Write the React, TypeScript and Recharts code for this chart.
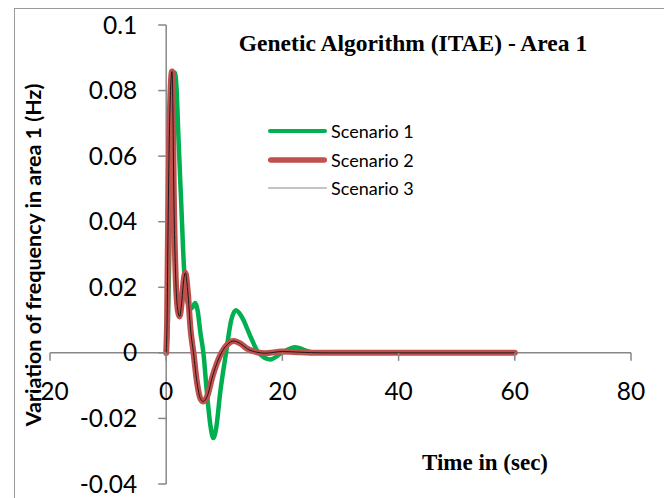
import React from 'react';
import { LineChart, Line, XAxis, YAxis, ReferenceLine, ReferenceDot, Legend } from 'recharts';

const chartTitle = 'Genetic Algorithm (ITAE) - Area 1';
const xAxisTitle = 'Time in (sec)';
const yAxisTitle = 'Variation of frequency in area 1 (Hz)';

const xTicks = [-20, 0, 20, 40, 60, 80];
const xTickLabels = ['-20', '0', '20', '40', '60', '80'];
const yTicks = [-0.04, -0.02, 0, 0.02, 0.04, 0.06, 0.08, 0.1];
const yTickLabels = ['-0.04', '-0.02', '0', '0.02', '0.04', '0.06', '0.08', '0.1'];

const seriesNames = ['Scenario 1', 'Scenario 2', 'Scenario 3'];

const scenario1Time = [0, 0.3, 0.7, 1.1, 1.5, 1.8, 2.1, 2.6, 3.06, 3.5, 4.1, 4.5, 5.0, 5.4, 5.9, 6.4, 7.0, 7.6, 8.1, 8.6, 9.3, 10.3, 11.2, 12.0, 13.0, 14.5, 15.9, 17.9, 19.9, 22.2, 25.0, 28.0, 60];
const scenario1Values = [0, 0.01, 0.045, 0.078, 0.0855, 0.08, 0.066, 0.045, 0.026, 0.017, 0.0135, 0.0138, 0.0152, 0.013, 0.006, 0, -0.012, -0.022, -0.026, -0.023, -0.012, 0, 0.01, 0.013, 0.011, 0.005, 0, -0.002, 0, 0.0017, 0.0002, 0, 0];

const scenario2Time = [0, 0.15, 0.3, 0.5, 0.75, 1.0, 1.15, 1.3, 1.6, 2.0, 2.3, 2.7, 3.0, 3.3, 3.7, 4.2, 4.7, 5.3, 5.9, 6.4, 7.0, 8.0, 9.5, 10.5, 11.6, 12.8, 14.0, 15.6, 17.0, 20.0, 23.0, 27.0, 60];
const scenario2Values = [0, 0.01, 0.035, 0.062, 0.08, 0.0858, 0.075, 0.05, 0.025, 0.013, 0.0111, 0.016, 0.022, 0.0244, 0.019, 0.007, 0, -0.009, -0.014, -0.0148, -0.0135, -0.007, 0, 0.0025, 0.0036, 0.0028, 0.0012, 0.0002, -0.0001, 0.0004, 0.0002, 0, 0];

const scenario3Time = [0, 0.15, 0.3, 0.5, 0.75, 1.0, 1.15, 1.3, 1.6, 2.0, 2.3, 2.7, 3.0, 3.3, 3.7, 4.2, 4.7, 5.3, 5.9, 6.4, 7.0, 8.0, 9.5, 10.5, 11.6, 12.8, 14.0, 15.6, 17.0, 20.0, 23.0, 27.0, 60];
const scenario3Values = [0, 0.01, 0.035, 0.062, 0.08, 0.0858, 0.075, 0.05, 0.025, 0.013, 0.0111, 0.016, 0.022, 0.0244, 0.019, 0.007, 0, -0.009, -0.014, -0.0148, -0.0135, -0.007, 0, 0.0025, 0.0036, 0.0028, 0.0012, 0.0002, -0.0001, 0.0004, 0.0002, 0, 0];

const toPoints = (ts: number[], vs: number[]) => ts.map((t, i) => ({ t, v: vs[i] }));
const data1 = toPoints(scenario1Time, scenario1Values);
const data2 = toPoints(scenario2Time, scenario2Values);
const data3 = toPoints(scenario3Time, scenario3Values);

const AXIS_COLOR = '#878787';
const TICK_FONT = 'Lato, "Noto Sans", sans-serif';
const SERIF = '"Liberation Serif", "DejaVu Serif", serif';

const legendStyles: Record<string, { color: string; width: number }> = {
  'Scenario 1': { color: '#00B050', width: 4 },
  'Scenario 2': { color: '#C0504D', width: 5.5 },
  'Scenario 3': { color: '#8a8a8a', width: 1.2 },
};

const LegendContent = () => (
  <div style={{ display: 'flex', flexDirection: 'column', gap: 0 }}>
    {seriesNames.map((name) => {
      const s = legendStyles[name];
      return (
        <div key={name} style={{ display: 'flex', alignItems: 'center', height: 28.5 }}>
          <svg width={62} height={12} style={{ display: 'block' }}>
            <line x1={s.width / 2 + 1} y1={6} x2={60 - s.width / 2} y2={6} stroke={s.color} strokeWidth={s.width} strokeLinecap="round" />
          </svg>
          <span style={{ fontFamily: TICK_FONT, fontSize: 18, color: '#000', marginLeft: 2 }}>{name}</span>
        </div>
      );
    })}
  </div>
);

const makeXTick = (label: string) => (props: any) => {
  const { cx, cy } = props;
  return (
    <g>
      <line x1={cx} y1={cy} x2={cx} y2={cy + 8} stroke={AXIS_COLOR} strokeWidth={1.5} />
      <text x={cx} y={cy + 47} textAnchor="middle" fontFamily={TICK_FONT} fontSize={24.5} fill="#000">{label}</text>
    </g>
  );
};

const makeYTick = (label: string) => (props: any) => {
  const { cx, cy } = props;
  return (
    <g>
      <line x1={cx - 8} y1={cy} x2={cx} y2={cy} stroke={AXIS_COLOR} strokeWidth={1.5} />
      <text x={cx - 29} y={cy + 8.5} textAnchor="end" fontFamily={TICK_FONT} fontSize={24.5} fill="#000">{label}</text>
    </g>
  );
};

export default function App() {
  return (
    <div style={{ position: 'absolute', left: 0, top: 0, width: 664, height: 498, overflow: 'hidden', background: '#fff' }}>
      <div style={{ position: 'absolute', left: 14, top: 8, width: 660, height: 520, border: '1.5px solid #9a9a9a', boxSizing: 'border-box' }} />
      <LineChart width={664} height={498} margin={{ top: 25, right: 33, bottom: 14, left: 50 }} style={{ position: 'absolute', left: 0, top: 0 }}>
        <XAxis type="number" dataKey="t" domain={[-20, 80]} ticks={xTicks} hide allowDataOverflow />
        <YAxis type="number" dataKey="v" domain={[-0.04, 0.1]} ticks={yTicks} hide allowDataOverflow />
        <ReferenceLine y={0} stroke={AXIS_COLOR} strokeWidth={1.5} ifOverflow="visible" />
        <ReferenceLine x={0} stroke={AXIS_COLOR} strokeWidth={1.5} ifOverflow="visible" />
        {xTicks.map((t, i) => (
          <ReferenceDot key={'x' + t} x={t} y={0} r={0} ifOverflow="visible" shape={makeXTick(xTickLabels[i])} />
        ))}
        {yTicks.map((v, i) => (
          <ReferenceDot key={'y' + v} x={0} y={v} r={0} ifOverflow="visible" shape={makeYTick(yTickLabels[i])} />
        ))}
        <Line data={data1} dataKey="v" name={seriesNames[0]} type="monotone" stroke="#00B050" strokeWidth={4.5} dot={false} activeDot={false} strokeLinecap="round" strokeLinejoin="round" isAnimationActive={false} />
        <Line data={data2} dataKey="v" name={seriesNames[1]} type="monotone" stroke="#C0504D" strokeWidth={6} dot={false} activeDot={false} strokeLinecap="round" strokeLinejoin="round" isAnimationActive={false} />
        <Line data={data3} dataKey="v" name={seriesNames[2]} type="monotone" stroke="#1a1a1a" strokeWidth={1} dot={false} activeDot={false} isAnimationActive={false} />
        <Legend layout="vertical" align="center" verticalAlign="middle" content={<LegendContent />} wrapperStyle={{ left: 267, top: 117, width: 170, height: 86 }} />
      </LineChart>
      <svg width={664} height={498} style={{ position: 'absolute', left: 0, top: 0, pointerEvents: 'none' }}>
        <text x={413} y={51} textAnchor="middle" fontFamily={SERIF} fontWeight="bold" fontSize={23.5} fill="#000">{chartTitle}</text>
        <text x={485} y={470} textAnchor="middle" fontFamily={SERIF} fontWeight="bold" fontSize={23} fill="#000">{xAxisTitle}</text>
        <text transform="translate(41,255) rotate(-90)" textAnchor="middle" fontFamily={TICK_FONT} fontWeight="bold" fontSize={21.5} fill="#000">{yAxisTitle}</text>
      </svg>
    </div>
  );
}
